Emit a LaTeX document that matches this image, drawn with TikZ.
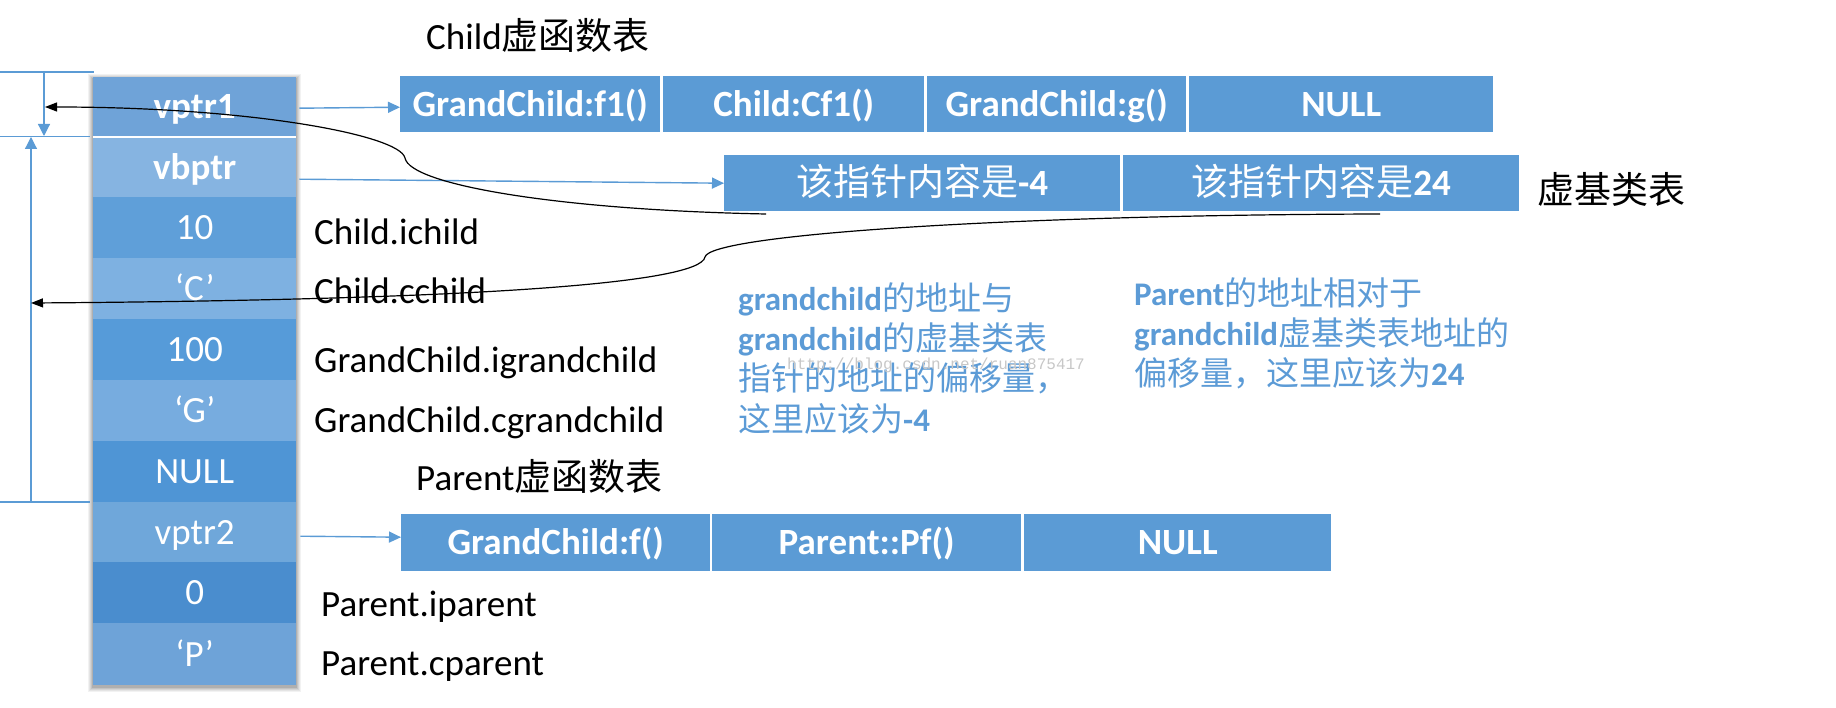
\documentclass[tikz,border=0pt]{standalone}
\usepackage{fontspec}
\setmainfont{Carlito}
\newfontfamily\cjk{Noto Sans CJK SC}
\newfontfamily\wmfont{Liberation Mono}
\usetikzlibrary{arrows.meta}
\newcommand\zhtxt[1]{{\cjk #1}}
\definecolor{tblue}{HTML}{5B9BD5}
\definecolor{noteblue}{HTML}{5C9BD6}
\definecolor{rA}{HTML}{6FA3D8}
\definecolor{rB}{HTML}{86B4E1}
\definecolor{rC}{HTML}{5F9FD9}
\definecolor{rD}{HTML}{7EB1E1}
\definecolor{rE}{HTML}{569BD9}
\definecolor{rF}{HTML}{77ACDF}
\definecolor{rG}{HTML}{4F95D5}
\definecolor{rH}{HTML}{6FA7DA}
\definecolor{rI}{HTML}{4A8DCE}
\definecolor{rJ}{HTML}{6EA3D8}
\begin{document}
\begin{tikzpicture}[x=1pt,y=-1pt,
  memrow/.style={anchor=north west, minimum width=203, inner sep=0, text=white,
    font=\fontsize{37}{40}\selectfont, text height=24pt, text depth=0pt},
  cell/.style={anchor=north west, fill=tblue, inner sep=0, text=white,
    font=\fontsize{37}{40}\selectfont\bfseries, text height=24pt, text depth=0pt},
  lbl/.style={anchor=base west, inner sep=0, font=\fontsize{37}{40}\selectfont},
  note/.style={anchor=base west, inner sep=0, text=noteblue, font=\fontsize{33}{40}\selectfont},
  barrow/.style={draw=tblue, line width=1.4pt, -{Triangle[length=12pt,width=11pt]}},
  dimline/.style={draw=tblue, line width=1.2pt},
  dimarrow/.style={draw=tblue, line width=1.2pt, -{Triangle[length=12pt,width=12pt]}},
  bcurve/.style={draw=black, line width=1.2pt, -{Triangle[length=12pt,width=9pt]}}
]
\useasboundingbox (0,0) rectangle (1836,708);

% shadow of the memory column
\foreach \d/\o in {5/0.05,4/0.06,3/0.07,2/0.08,1/0.1}{
  \fill[black,opacity=\o] (93-\d,77-\d+2) rectangle (296+\d,685+\d+2);
}

% memory column
\node[memrow, fill=rA, minimum height=59] (r1) at (93,77) {\bfseries vptr1};
\node[memrow, fill=rB, minimum height=59] (r2) at (93,138) {\bfseries vbptr};
\node[memrow, fill=rC, minimum height=61] (r3) at (93,197) {10};
\node[memrow, fill=rD, minimum height=61] (r4) at (93,258) {‘C’};
\node[memrow, fill=rE, minimum height=61] (r5) at (93,319) {100};
\node[memrow, fill=rF, minimum height=61] (r6) at (93,380) {‘G’};
\node[memrow, fill=rG, minimum height=61] (r7) at (93,441) {NULL};
\node[memrow, fill=rH, minimum height=60] (r8) at (93,502) {vptr2};
\node[memrow, fill=rI, minimum height=61] (r9) at (93,562) {0};
\node[memrow, fill=rJ, minimum height=62] (r10) at (93,623) {‘P’};
\fill[white] (93,136) rectangle (296,138);

% labels beside the column
\node[lbl] (l3) at (314,245) {Child.ichild};
\node[lbl] (l4) at (314,304) {Child.cchild};
\node[lbl] (l5) at (314,373) {GrandChild.igrandchild};
\node[lbl] (l6) at (314,432) {GrandChild.cgrandchild};
\node[lbl] (l9) at (321,616) {Parent.iparent};
\node[lbl] (l10) at (321,675) {Parent.cparent};

% titles
\node[lbl] (t1) at (426,50) {Child\zhtxt{虚函数表}};
\node[lbl] (t2) at (416,490) {Parent\zhtxt{虚函数表}};
\node[lbl] (t3) at (1537,204) {\zhtxt{虚基类表}};

% Child virtual function table
\node[cell, minimum width=260, minimum height=56] (c1) at (400,76) {GrandChild:f1()};
\node[cell, minimum width=261, minimum height=56] (c2) at (663,76) {Child:Cf1()};
\node[cell, minimum width=259, minimum height=56] (c3) at (927,76) {GrandChild:g()};
\node[cell, minimum width=304, minimum height=56] (c4) at (1189,76) {NULL};

% virtual base table
\node[cell, minimum width=396, minimum height=56] (v1) at (724,155) {\zhtxt{\mdseries 该指针内容是}-4};
\node[cell, minimum width=396, minimum height=56] (v2) at (1123,155) {\zhtxt{\mdseries 该指针内容是}24};

% Parent virtual function table
\node[cell, minimum width=309, minimum height=57] (p1) at (401,514) {GrandChild:f()};
\node[cell, minimum width=309, minimum height=57] (p2) at (712,514) {Parent::Pf()};
\node[cell, minimum width=307, minimum height=57] (p3) at (1024,514) {NULL};

% notes
\node[note] (n1) at (738,311) {\bfseries grandchild\zhtxt{\mdseries 的地址与}};
\node[note] (n2) at (738,351) {\bfseries grandchild\zhtxt{\mdseries 的虚基类表}};
\node[note] (n3) at (738,391) {\zhtxt{指针的地址的偏移量，}};
\node[note] (n4) at (738,431) {\zhtxt{这里应该为}\bfseries -4};
\node[note] (m1) at (1134,305.5) {\bfseries Parent\zhtxt{\mdseries 的地址相对于}};
\node[note] (m2) at (1134,345.5) {\bfseries grandchild\zhtxt{\mdseries 虚基类表地址的}};
\node[note] (m3) at (1134,385.5) {\zhtxt{偏移量，这里应该为}\bfseries 24};

% watermark
\node[anchor=base west, inner sep=0, text=black!22, font=\wmfont\fontsize{16}{18}\selectfont] (wm) at (787,370) {http://blog.csdn.net/ruan875417};

% pointer arrows
\draw[barrow] ([xshift=3pt,yshift=-1.5pt]r1.east) -- ([yshift=-3pt]c1.west);
\draw[barrow] ([xshift=3pt,yshift=-11.5pt]r2.east) -- (v1.west);
\draw[barrow] ([xshift=4pt,yshift=-4pt]r8.east) -- ([yshift=5.5pt]p1.west);

% dimension lines on the left
\coordinate (h1a) at (0,72);   \coordinate (h1b) at (94,72);
\coordinate (h2a) at (0,136.5); \coordinate (h2b) at (90,136.5);
\coordinate (h3a) at (0,502);  \coordinate (h3b) at (90,502);
\coordinate (va1) at (44,72);  \coordinate (va2) at (44,136);
\coordinate (vb1) at (31,502); \coordinate (vb2) at (31,137);
\draw[dimline] (h1a) -- (h1b);
\draw[dimline] (h2a) -- (h2b);
\draw[dimline] (h3a) -- (h3b);
\draw[dimarrow] (va1) -- (va2);
\draw[dimarrow] (vb1) -- (vb2);

% offset curves
\coordinate (k1s) at (766,214);
\coordinate (k1m) at (405,158);
\coordinate (k1e) at (45,107);
\coordinate (k2s) at (1380,214);
\coordinate (k2m) at (705,257);
\coordinate (k2e) at (31,303);
\draw[bcurve] (k1s) .. controls (560,210) and (410,185) .. (k1m)
  .. controls (400,135) and (250,107) .. (k1e);
\draw[bcurve] (k2s) .. controls (1000,215) and (710,235) .. (k2m)
  .. controls (700,285) and (450,300) .. (k2e);
\end{tikzpicture}
\end{document}
